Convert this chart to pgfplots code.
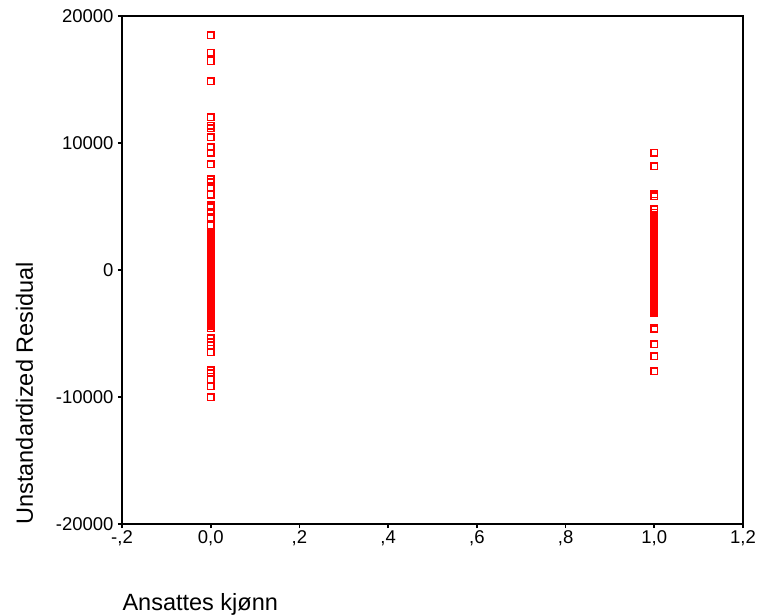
\documentclass[border=0pt]{standalone}
\usepackage{fontspec}
\setmainfont{Liberation Sans}
\usepackage{pgfplots}
\usepackage{pgfplotstable}
\pgfplotsset{compat=1.18}

% Unstandardized residuals, gender code 0
\pgfplotstableread[row sep=\\]{
y\\
18504\\ 17087\\ 16457\\ 14882\\ 12047\\ 11339\\ 11181\\ 10472\\ 9685\\ 9213\\
8346\\ 7165\\ 6929\\ 6535\\ 5906\\ 5118\\ 4960\\ 4567\\ 4173\\ 3543\\ 2913\\
2800\\ 2700\\ 2600\\ 2500\\ 2400\\ 2300\\ 2200\\ 2100\\ 2000\\ 1900\\ 1800\\
1700\\ 1600\\ 1500\\ 1400\\ 1300\\ 1200\\ 1100\\ 1000\\ 900\\ 800\\ 700\\
600\\ 500\\ 400\\ 300\\ 200\\ 100\\ 0\\ -100\\ -200\\ -300\\ -400\\ -500\\
-600\\ -700\\ -800\\ -900\\ -1000\\ -1100\\ -1200\\ -1300\\ -1400\\ -1500\\
-1600\\ -1700\\ -1800\\ -1900\\ -2000\\ -2100\\ -2200\\ -2300\\ -2400\\
-2500\\ -2600\\ -2700\\ -2800\\ -2900\\ -3000\\ -3100\\ -3200\\ -3300\\
-3400\\ -3500\\ -3600\\ -3700\\ -3800\\ -3900\\ -4000\\ -4100\\ -4200\\
-4300\\ -4400\\ -4567\\ -5354\\ -5669\\ -5906\\ -6457\\ -7874\\ -8110\\
-8583\\ -9134\\ -10000\\
}\groupzero

% Unstandardized residuals, gender code 1
\pgfplotstableread[row sep=\\]{
y\\
9213\\ 8189\\ 5984\\ 5827\\ 4803\\ 4500\\
4300\\ 4200\\ 4100\\ 4000\\ 3900\\ 3800\\ 3700\\ 3600\\ 3500\\ 3400\\ 3300\\
3200\\ 3100\\ 3000\\ 2900\\ 2800\\ 2700\\ 2600\\ 2500\\ 2400\\ 2300\\ 2200\\
2100\\ 2000\\ 1900\\ 1800\\ 1700\\ 1600\\ 1500\\ 1400\\ 1300\\ 1200\\ 1100\\
1000\\ 900\\ 800\\ 700\\ 600\\ 500\\ 400\\ 300\\ 200\\ 100\\ 0\\ -100\\
-200\\ -300\\ -400\\ -500\\ -600\\ -700\\ -800\\ -900\\ -1000\\ -1100\\
-1200\\ -1300\\ -1400\\ -1500\\ -1600\\ -1700\\ -1800\\ -1900\\ -2000\\
-2100\\ -2200\\ -2300\\ -2400\\ -2500\\ -2600\\ -2700\\ -2800\\ -2900\\
-3000\\ -3100\\ -3200\\ -3300\\ -3386\\
-4567\\ -4650\\ -5827\\ -6772\\ -7953\\
}\groupone

\begin{document}
\begin{tikzpicture}
\begin{axis}[
  name=ax,
  scale only axis,
  width=621pt, height=508pt,
  xmin=-0.2, xmax=1.2, ymin=-20000, ymax=20000,
  xtick={-0.2,0,0.2,0.4,0.6,0.8,1.0,1.2},
  xticklabels={{-,2},{0,0},{,2},{,4},{,6},{,8},{1,0},{1,2}},
  ytick={-20000,-10000,0,10000,20000},
  yticklabels={-20000,-10000,0,10000,20000},
  scaled x ticks=false, scaled y ticks=false,
  xtick pos=bottom, ytick pos=left,
  tick align=outside,
  major tick length=4pt,
  tick style={line width=1.6pt, black},
  axis line style={line width=1.5pt, black},
  tick label style={font=\fontsize{18.5}{22}\selectfont},
  xticklabel style={yshift=1pt},
  yticklabel style={xshift=-1pt},
  xlabel={Ansattes kjønn},
  ylabel={Unstandardized Residual},
  label style={font=\fontsize{23.5}{28}\selectfont},
  xlabel style={at={(rel axis cs:0,0)}, anchor=base west, yshift=-86pt, xshift=-3pt},
  ylabel style={at={(rel axis cs:0,0)}, anchor=base west, yshift=89pt, xshift=-4pt},
  clip=false,
]
\addplot[only marks, mark=square, mark size=3.3pt, red,
  mark options={line width=1.6pt, fill=none}]
  table[x expr=0, y=y] {\groupzero};
\addplot[only marks, mark=square, mark size=3.3pt, red,
  mark options={line width=1.6pt, fill=none}]
  table[x expr=1, y=y] {\groupone};
\end{axis}
\pgfresetboundingbox
\path (ax.south west) ++(-122pt,-90pt) rectangle ++(757pt,614pt);
\end{tikzpicture}
\end{document}
